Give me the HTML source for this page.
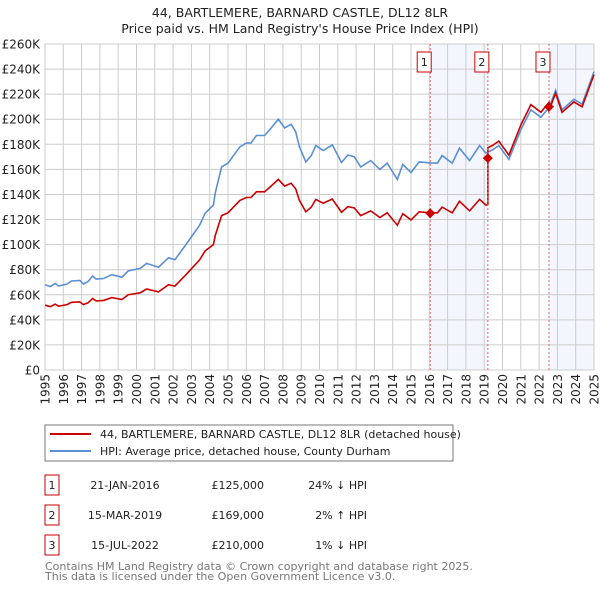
<!DOCTYPE html>
<html><head><meta charset="utf-8"><style>
body{margin:0;background:#fff;font-family:"DejaVu Sans","Liberation Sans",sans-serif;}
svg text{font-family:"DejaVu Sans","Liberation Sans",sans-serif;}
</style></head><body>
<svg id="c" width="600" height="590" xmlns="http://www.w3.org/2000/svg">
<text x="300" y="17" text-anchor="middle" font-size="12.5" fill="#222">44, BARTLEMERE, BARNARD CASTLE, DL12 8LR</text>
<text x="300" y="33" text-anchor="middle" font-size="12.5" fill="#222">Price paid vs. HM Land Registry's House Price Index (HPI)</text>
<g id="shade"></g><g id="grid"></g><g id="axes"></g><g id="series"></g><g id="marks"></g>
<rect x="45" y="425" width="408" height="36" fill="#fff" stroke="#777"/>
<line x1="50" y1="434" x2="91" y2="434" stroke="#cc0000" stroke-width="2"/>
<text x="100" y="438" font-size="11" fill="#222">44, BARTLEMERE, BARNARD CASTLE, DL12 8LR (detached house)</text>
<line x1="50" y1="451" x2="91" y2="451" stroke="#5b8fd4" stroke-width="2"/>
<text x="100" y="455" font-size="11" fill="#222">HPI: Average price, detached house, County Durham</text>
<g id="table" font-size="11" fill="#222"></g>
<text x="45" y="570" font-size="11" fill="#777">Contains HM Land Registry data © Crown copyright and database right 2025.</text>
<text x="45" y="580" font-size="11" fill="#777">This data is licensed under the Open Government Licence v3.0.</text>
</svg>
<script>
const hpiYears=[1995.0,1995.3,1995.55,1995.75,1996.2,1996.45,1996.9,1997.1,1997.35,1997.6,1997.8,1998.2,1998.65,1999.2,1999.55,2000.2,2000.55,2001.2,2001.75,2002.1,2002.75,2003.45,2003.75,2004.2,2004.3,2004.65,2005.0,2005.65,2006.0,2006.25,2006.55,2007.0,2007.3,2007.75,2008.1,2008.45,2008.7,2008.9,2009.25,2009.55,2009.8,2010.2,2010.7,2011.2,2011.55,2011.9,2012.25,2012.8,2013.3,2013.7,2014.25,2014.55,2015.0,2015.45,2016.1,2016.45,2016.7,2017.25,2017.65,2018.2,2018.75,2019.1,2019.45,2019.8,2020.35,2021.0,2021.55,2022.1,2022.55,2022.9,2023.25,2023.9,2024.35,2024.9,2025.0];
const hpiValues=[68,66.5,69,67,68.6,71,71.5,68.6,70.5,75,72.5,73,76,74,79,81,85,82,89.5,88,101,115.5,125,131.5,141,162,165,178,181,181,187,187,192,200,193,196,190,178,166,171,179,175,179.5,165.5,171.5,170,162,167,160,165,152,164,157.5,166,165,165,171,165,177,167,179,173,175.5,179,168,191.5,207.5,201.5,209.5,223,207.5,216,212,234,238];
const saleLabels=["1","2","3"];
const saleYears=[2016.05,2019.2,2022.54];
const salePrices=[125,169,210];
const saleDates=["21-JAN-2016","15-MAR-2019","15-JUL-2022"];
const salePriceText=["£125,000","£169,000","£210,000"];
const saleHpiText=["24% ↓ HPI","2% ↑ HPI","1% ↓ HPI"];
const saleRatios=[0.76,1.02,0.99];
const yTicks=[0,20,40,60,80,100,120,140,160,180,200,220,240,260];
const xTicks=[1995,1996,1997,1998,1999,2000,2001,2002,2003,2004,2005,2006,2007,2008,2009,2010,2011,2012,2013,2014,2015,2016,2017,2018,2019,2020,2021,2022,2023,2024,2025];

const NS="http://www.w3.org/2000/svg";
const X0=45,X1=594,Y0=370,Y1=44;
const xs=y=>X0+(y-1995)/30*(X1-X0);
const ys=v=>Y0-v/260*(Y0-Y1);
function mk(tag,attrs,parent){const e=document.createElementNS(NS,tag);for(const k in attrs)e.setAttribute(k,attrs[k]);document.getElementById(parent).appendChild(e);return e;}

let r=mk('rect',{x:xs(saleYears[0]),y:Y1,width:xs(saleYears[1])-xs(saleYears[0]),height:Y0-Y1,fill:'#f3f6fd'},'shade');


r=mk('rect',{x:xs(saleYears[2]),y:Y1,width:X1-xs(saleYears[2]),height:Y0-Y1,fill:'#f3f6fd'},'shade');



yTicks.forEach(t=>{
 let l=mk('line',{x1:X0,x2:X1,y1:ys(t),y2:ys(t),stroke:'#ccc'},'grid');
 
 
 let tx=mk('text',{x:40,y:ys(t)+4.5,'text-anchor':'end','font-size':'12',fill:'#222'},'axes');
 tx.textContent=t===0?'£0':'£'+t+'K';
 
 
});
xTicks.forEach(t=>{
 let l=mk('line',{x1:xs(t),x2:xs(t),y1:Y1,y2:Y0,stroke:'#ccc'},'grid');
 
 
 let tx=mk('text',{x:0,y:0,'text-anchor':'end','font-size':'12',fill:'#222',transform:`translate(${xs(t)+4.5},374) rotate(-90)`},'axes');
 tx.textContent=t;
 
 
});
let b=mk('rect',{x:X0,y:Y1,width:X1-X0,height:Y0-Y1,fill:'none',stroke:'#ccc'},'grid');



function ratioAt(y){return y<saleYears[1]?saleRatios[0]:(y<saleYears[2]?saleRatios[1]:saleRatios[2]);}
let hp=hpiYears.map((y,i)=>`${xs(y).toFixed(1)},${ys(hpiValues[i]).toFixed(1)}`).join(' ');
let pl=mk('polyline',{points:hp,fill:'none',stroke:'#5b8fd4','stroke-width':1.6},'series');


let rp=[];
hpiYears.forEach((y,i)=>{
 saleYears.forEach((s,j)=>{if(j>0&&i>0&&hpiYears[i-1]<s&&y>=s){const t=(s-hpiYears[i-1])/(y-hpiYears[i-1]);const h=hpiValues[i-1]+t*(hpiValues[i]-hpiValues[i-1]);rp.push([s,h*saleRatios[j-1]]);rp.push([s,h*saleRatios[j]]);}});
 rp.push([y,hpiValues[i]*ratioAt(y)]);
});
pl=mk('polyline',{points:rp.map(p=>`${xs(p[0]).toFixed(1)},${ys(p[1]).toFixed(1)}`).join(' '),fill:'none',stroke:'#cc0000','stroke-width':1.6},'series');



saleYears.forEach((s,i)=>{
 const x=xs(s);
 let l=mk('line',{x1:x,x2:x,y1:Y1,y2:Y0,stroke:'#e66','stroke-dasharray':'2,2'},'marks');
 
 
 let bx=mk('rect',{x:x-13,y:52,width:14,height:20,fill:'#fff',stroke:'#cc0000'},'marks');
 
 
 let t=mk('text',{x:x-6,y:66,'text-anchor':'middle','font-size':'11',fill:'#222'},'marks');
 t.textContent=saleLabels[i];
 
 
 const yy=ys(salePrices[i]);
 let d=mk('polygon',{points:`${x},${yy-5} ${x+5},${yy} ${x},${yy+5} ${x-5},${yy}`,fill:'#cc0000'},'marks');
 
 
 const ry=475+i*30;
 let tb=mk('rect',{x:45,y:ry,width:14,height:20,fill:'#fff',stroke:'#cc0000'},'table');
 
 
 const cells=[[52,saleLabels[i],'middle'],[125,saleDates[i],'middle'],[264,salePriceText[i],'end'],[367,saleHpiText[i],'end']];
 cells.forEach(c=>{let e=mk('text',{x:c[0],y:ry+14,'text-anchor':c[2],'font-size':'11',fill:'#222'},'table');e.textContent=c[1];
  
  });
});
</script>
</body></html>
